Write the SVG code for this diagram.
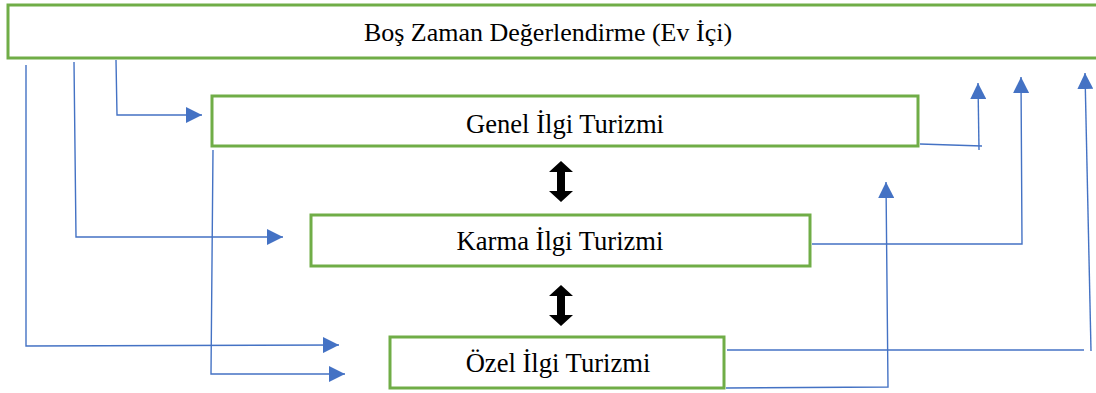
<svg xmlns="http://www.w3.org/2000/svg" width="1096" height="393" viewBox="0 0 1096 393">
<style>
.box{fill:#fff;stroke:#70AD47;stroke-width:3}
.lbl{font-family:"Times New Roman","Liberation Serif","DejaVu Serif",serif;font-size:26.6px;fill:#000;text-anchor:middle}
.big{font-size:26px}
.c{fill:none;stroke:#4472C4;stroke-width:1.4}
.dbl{fill:#000}
</style>
<defs>
<marker id="ah" markerUnits="userSpaceOnUse" markerWidth="16" markerHeight="16" refX="16" refY="8" orient="auto">
<path d="M0,0 L16,8 L0,16 Z" fill="#4472C4"/>
</marker>
</defs>
<rect width="1096" height="393" fill="#fff"/>
<g id="n-top"><rect class="box" x="8" y="5" width="1100" height="53"/><text class="lbl big" x="548" y="41">Boş Zaman Değerlendirme (Ev İçi)</text></g>
<g id="n-genel"><rect class="box" x="212" y="96" width="706" height="50"/><text class="lbl" x="565" y="133">Genel İlgi Turizmi</text></g>
<g id="n-karma"><rect class="box" x="311" y="215" width="499" height="51"/><text class="lbl" x="560" y="250">Karma İlgi Turizmi</text></g>
<g id="n-ozel"><rect class="box" x="390" y="337" width="334" height="51"/><text class="lbl" x="558" y="372">Özel İlgi Turizmi</text></g>
<g id="connectors">
<path class="c" d="M116,60 L117,115 L202,115" marker-end="url(#ah)"/>
<path class="c" d="M74,62 L76,237 L283,237" marker-end="url(#ah)"/>
<path class="c" d="M26,65 L26,346 L339,345" marker-end="url(#ah)"/>
<path class="c" d="M213,150 L211,374 L345,374" marker-end="url(#ah)"/>
<path class="c" d="M920,144 L982,146"/>
<path class="c" d="M979,150 L978,83" marker-end="url(#ah)"/>
<path class="c" d="M812,244 L1022,244 L1021,77" marker-end="url(#ah)"/>
<path class="c" d="M727,350 L1084,350"/>
<path class="c" d="M1091,351 L1085,73" marker-end="url(#ah)"/>
<path class="c" d="M726,388 L888,387 L886,182" marker-end="url(#ah)"/>
<path class="dbl" d="M561,161 L573,172 L565,172 L565,191 L573,191 L561,202 L549,191 L557,191 L557,172 L549,172 Z"/>
<path class="dbl" d="M561,285 L573,296 L565,296 L565,315 L573,315 L561,326 L549,315 L557,315 L557,296 L549,296 Z"/>
</g>
</svg>
